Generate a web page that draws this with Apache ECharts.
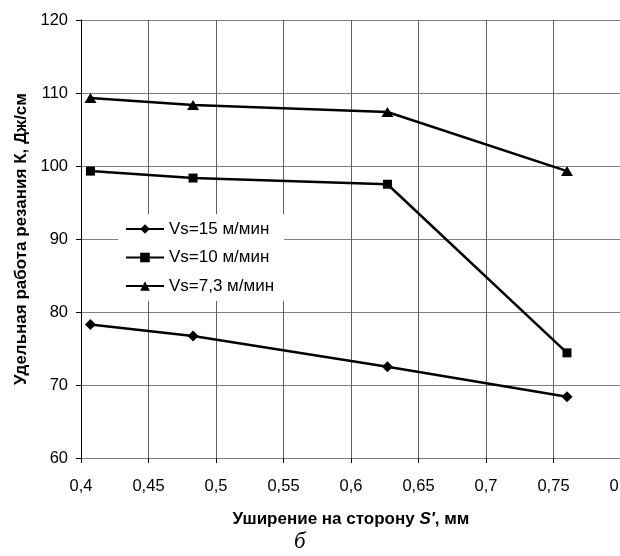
<!DOCTYPE html>
<html>
<head>
<meta charset="utf-8">
<script src="https://cdn.jsdelivr.net/npm/echarts@6/dist/echarts.min.js"></script>
<style>html,body{margin:0;padding:0;background:#fff;}#c{width:620px;height:556px;}</style>
</head>
<body>
<div id="c"></div>
<script>
const xTicks = [0.4, 0.45, 0.5, 0.55, 0.6, 0.65, 0.7, 0.75, 0.8];
const xValues = [0.407, 0.483, 0.627, 0.760];
const vs15 = [78.3, 76.7, 72.5, 68.4];
const vs10 = [99.3, 98.35, 97.5, 74.4];
const vs73 = [109.3, 108.35, 107.4, 99.3];
const seriesNames = ['Vs=15 м/мин', 'Vs=10 м/мин', 'Vs=7,3 м/мин'];
const symbols = ['diamond', 'rect', 'triangle'];

const chart = echarts.init(document.getElementById('c'));
const font = 'Liberation Sans, Arial, sans-serif';
const mk = (name, vals, sym, size) => ({
  name: name, type: 'line', data: xValues.map((x, i) => [x, vals[i]]),
  symbol: sym, symbolSize: size, showSymbol: true,
  lineStyle: {color: '#000', width: 2.5}, itemStyle: {color: '#000'},
  animation: false
});
chart.setOption({
  animation: false,
  backgroundColor: '#fff',
  grid: {left: 81, width: 540, top: 20, height: 438, containLabel: false, outerBoundsMode: 'none'},
  legend: {
    orient: 'vertical', left: 118, top: 214,
    padding: [6, 10, 6, 7], backgroundColor: '#fff',
    itemWidth: 38, itemHeight: 12, itemGap: 10.5,
    textStyle: {fontFamily: font, fontSize: 17, lineHeight: 18, color: '#000'},
    data: seriesNames
  },
  xAxis: {
    type: 'value', min: 0.4, max: 0.8, interval: 0.05,
    axisLine: {lineStyle: {color: '#808080', width: 1}},
    axisTick: {show: true, length: 5, lineStyle: {color: '#000'}},
    splitLine: {show: true, lineStyle: {color: '#606060', width: 1}},
    axisLabel: {
      fontFamily: font, fontSize: 16.5, color: '#000', margin: 20,
      showMaxLabel: true, hideOverlap: false,
      formatter: v => String(Math.round(v * 100) / 100).replace('.', ',')
    },
    name: 'Уширение на сторону {i|S′}, мм',
    nameLocation: 'middle', nameGap: 53,
    nameTextStyle: {fontFamily: font, fontSize: 17, fontWeight: 'bold', color: '#000',
      rich: {i: {fontFamily: font, fontSize: 17, fontWeight: 'bold', fontStyle: 'italic', color: '#000'}}}
  },
  yAxis: {
    type: 'value', min: 60, max: 120, interval: 10,
    axisLine: {show: true, lineStyle: {color: '#000', width: 1}},
    axisTick: {show: true, length: 5, lineStyle: {color: '#000'}},
    splitLine: {show: true, lineStyle: {color: '#808080', width: 1}},
    axisLabel: {fontFamily: font, fontSize: 16.5, color: '#000', margin: 13},
    name: 'Удельная работа резания К, Дж/см',
    nameLocation: 'middle', nameGap: 51,
    nameTextStyle: {fontFamily: font, fontSize: 17, fontWeight: 'bold', color: '#000'}
  },
  graphic: [{
    type: 'text', left: 294, top: 530,
    style: {text: 'б', font: 'italic 23px "Liberation Serif", "DejaVu Serif", serif', fill: '#000'}
  }],
  series: [
    mk(seriesNames[0], vs15, symbols[0], [11, 11]),
    mk(seriesNames[1], vs10, symbols[1], 9),
    mk(seriesNames[2], vs73, symbols[2], [12, 10])
  ]
});
</script>
</body>
</html>
